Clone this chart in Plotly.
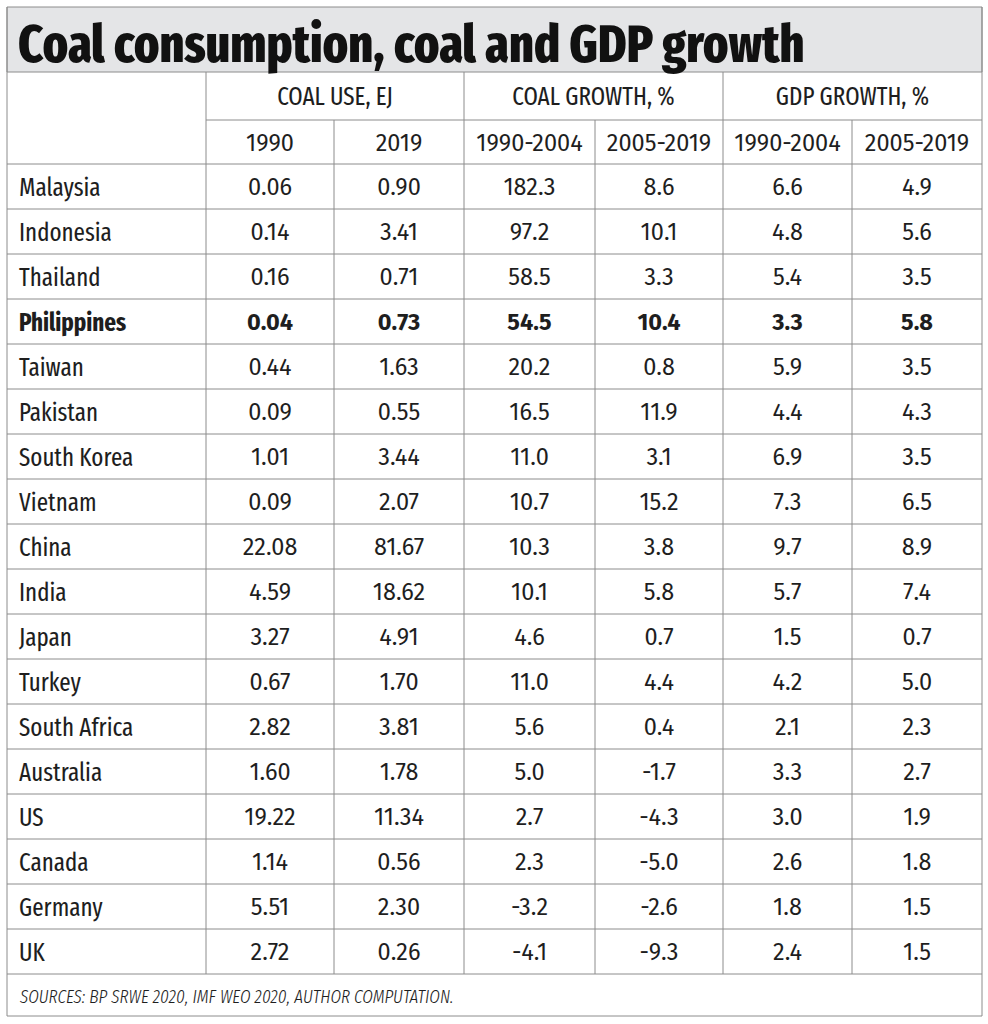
import plotly.graph_objects as go

# ---------------- data ----------------
title = "Coal consumption, coal and GDP growth"
group_headers = ["COAL USE, EJ", "COAL GROWTH, %", "GDP GROWTH, %"]
sub_headers = ["1990", "2019", "1990-2004", "2005-2019", "1990-2004", "2005-2019"]
countries = ["Malaysia", "Indonesia", "Thailand", "Philippines", "Taiwan", "Pakistan",
             "South Korea", "Vietnam", "China", "India", "Japan", "Turkey",
             "South Africa", "Australia", "US", "Canada", "Germany", "UK"]
coal_use_1990 = [0.06, 0.14, 0.16, 0.04, 0.44, 0.09, 1.01, 0.09, 22.08, 4.59, 3.27, 0.67,
                 2.82, 1.60, 19.22, 1.14, 5.51, 2.72]
coal_use_2019 = [0.90, 3.41, 0.71, 0.73, 1.63, 0.55, 3.44, 2.07, 81.67, 18.62, 4.91, 1.70,
                 3.81, 1.78, 11.34, 0.56, 2.30, 0.26]
coal_growth_90_04 = [182.3, 97.2, 58.5, 54.5, 20.2, 16.5, 11.0, 10.7, 10.3, 10.1, 4.6, 11.0,
                     5.6, 5.0, 2.7, 2.3, -3.2, -4.1]
coal_growth_05_19 = [8.6, 10.1, 3.3, 10.4, 0.8, 11.9, 3.1, 15.2, 3.8, 5.8, 0.7, 4.4,
                     0.4, -1.7, -4.3, -5.0, -2.6, -9.3]
gdp_growth_90_04 = [6.6, 4.8, 5.4, 3.3, 5.9, 4.4, 6.9, 7.3, 9.7, 5.7, 1.5, 4.2,
                    2.1, 3.3, 3.0, 2.6, 1.8, 2.4]
gdp_growth_05_19 = [4.9, 5.6, 3.5, 5.8, 3.5, 4.3, 3.5, 6.5, 8.9, 7.4, 0.7, 5.0,
                    2.3, 2.7, 1.9, 1.8, 1.5, 1.5]
highlight = "Philippines"
source = "SOURCES: BP SRWE 2020, IMF WEO 2020, AUTHOR COMPUTATION."

# ---------------- layout geometry (pixel-like axis units) ----------------
W, H = 988, 1024
col_edges = [7, 206, 334, 464, 595, 723, 852, 982]
top, title_bottom, hdr1_bottom, hdr2_bottom = 7, 72, 120, 164
n = len(countries)
table_bottom = 974
bottom = 1016
row_h = (table_bottom - hdr2_bottom) / n
row_edges = [hdr2_bottom + i * row_h for i in range(n + 1)]
DY = 3  # optical offset so cap-height is centred in the cell
row_centers = [(row_edges[i] + row_edges[i + 1]) / 2 + DY for i in range(n)]
col_centers = [(col_edges[i] + col_edges[i + 1]) / 2 for i in range(len(col_edges) - 1)]

TXTFONT = "Fira Sans Extra Condensed, Fira Sans Condensed, sans-serif"
NUMFONT = "Fira Sans, Fira Sans Condensed, sans-serif"
TFONT = "Fira Sans Extra Condensed, Fira Sans Condensed, sans-serif"
TXT = "#1e1e1e"
LINE = "#8c8c8c"
WEIGHT = 400

fig = go.Figure()

def fmt(v, d):
    return f"{v:.{d}f}"

def cell(text, name):
    return f"<b>{text}</b>" if name == highlight else text

name_font = dict(family=TXTFONT, size=25, color=TXT, weight=WEIGHT)
num_font = dict(family=NUMFONT, size=23.5, color=TXT, weight=WEIGHT)

# country column (left aligned)
fig.add_trace(go.Scatter(
    x=[col_edges[0] + 12] * n, y=row_centers, mode="text",
    text=[cell(c, c) for c in countries], textposition="middle right",
    textfont=name_font, hoverinfo="skip", showlegend=False))

series = [(coal_use_1990, 2), (coal_use_2019, 2), (coal_growth_90_04, 1),
          (coal_growth_05_19, 1), (gdp_growth_90_04, 1), (gdp_growth_05_19, 1)]
for j, (vals, d) in enumerate(series):
    fig.add_trace(go.Scatter(
        x=[col_centers[j + 1]] * n, y=row_centers, mode="text",
        text=[cell(fmt(v, d), c) for v, c in zip(vals, countries)],
        textposition="middle center",
        textfont=num_font, hoverinfo="skip", showlegend=False))

# headers
grp_x = [(col_edges[1] + col_edges[3]) / 2, (col_edges[3] + col_edges[5]) / 2,
         (col_edges[5] + col_edges[7]) / 2]
fig.add_trace(go.Scatter(
    x=grp_x, y=[(title_bottom + hdr1_bottom) / 2 + DY] * 3, mode="text",
    text=group_headers, textposition="middle center",
    textfont=name_font, hoverinfo="skip", showlegend=False))
fig.add_trace(go.Scatter(
    x=col_centers[1:], y=[(hdr1_bottom + hdr2_bottom) / 2 + DY] * 6, mode="text",
    text=sub_headers, textposition="middle center",
    textfont=num_font, hoverinfo="skip", showlegend=False))

# title and source
fig.add_annotation(x=col_edges[0] + 9, y=(top + title_bottom) / 2 + 5, xref="x", yref="y",
                   text=title, showarrow=False, xanchor="left", yanchor="middle",
                   font=dict(family=TFONT, size=52, color="#111111", weight=800))
fig.add_annotation(x=col_edges[0] + 10, y=(table_bottom + bottom) / 2 + 2, xref="x", yref="y",
                   text=f"<i>{source}</i>", showarrow=False, xanchor="left", yanchor="middle",
                   font=dict(family=TFONT, size=18.5, color=TXT, weight=300))

# shapes: title band, grid
shapes = [dict(type="rect", x0=col_edges[0], x1=col_edges[-1], y0=top, y1=title_bottom,
               fillcolor="#e4e5e7", line=dict(color=LINE, width=1), layer="below")]

def hline(y, x0=col_edges[0], x1=col_edges[-1]):
    shapes.append(dict(type="line", x0=x0, x1=x1, y0=y, y1=y, line=dict(color=LINE, width=1)))

def vline(x, y0, y1):
    shapes.append(dict(type="line", x0=x, x1=x, y0=y0, y1=y1, line=dict(color=LINE, width=1)))

hline(hdr1_bottom, col_edges[1], col_edges[-1])
for y in [hdr2_bottom] + row_edges[1:]:
    hline(y)
hline(bottom)
vline(col_edges[0], top, bottom)
vline(col_edges[-1], top, bottom)
for i in (1, 3, 5):
    vline(col_edges[i], title_bottom, table_bottom)
for i in (2, 4, 6):
    vline(col_edges[i], hdr1_bottom, table_bottom)

fig.update_layout(
    width=W, height=H, margin=dict(l=0, r=0, t=0, b=0),
    paper_bgcolor="white", plot_bgcolor="white", shapes=shapes,
    xaxis=dict(range=[0, W], visible=False, fixedrange=True),
    yaxis=dict(range=[H, 0], visible=False, fixedrange=True),
)

fig.write_html("out.html", config={"displayModeBar": False},
               post_script="document.body.style.margin='0';document.body.style.overflow='hidden';")
